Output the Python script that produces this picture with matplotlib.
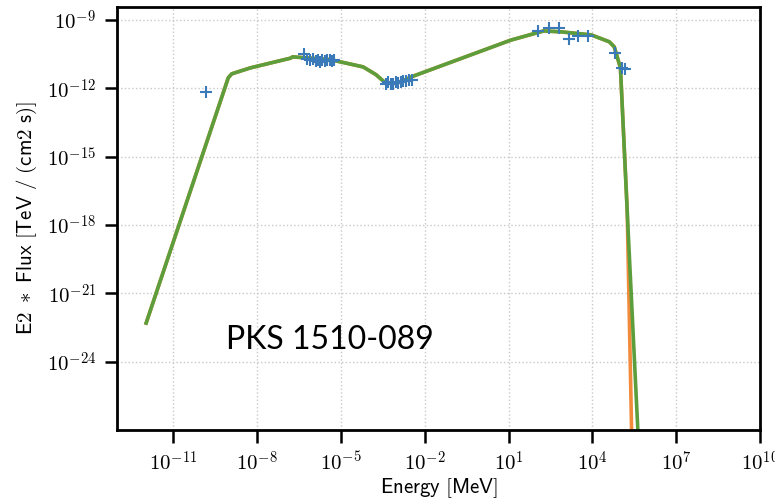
import numpy as np
import matplotlib.pyplot as plt
from matplotlib.ticker import FuncFormatter

plt.rcParams['mathtext.fontset'] = 'cm'

# model SED (total, with and without EBL absorption)
model_energy = [1.1e-12, 9.5e-10, 1.26e-9, 5.9e-9, 1.6e-7, 1.9e-7, 4.3e-6, 6.3e-5,
                1.8e-4, 4.0e-4, 1.0e-3, 4.1e-3, 4.0, 12.0, 182.0, 760.0, 9100.0,
                4.0e4, 6.0e4, 1.0e5, 1.9e5, 4.4e5]
model_flux = [5e-23, 2.9e-12, 4.3e-12, 7.9e-12, 2.1e-11, 2.4e-11, 1.8e-11, 8.7e-12,
              4.0e-12, 1.7e-12, 1.66e-12, 3.5e-12, 7.9e-11, 1.3e-10, 3.3e-10, 3.0e-10,
              2.2e-10, 1.1e-10, 6.6e-11, 7.9e-12, 4.6e-19, 3e-28]
absorbed_energy = model_energy[:20] + [1.74e5, 2.6e5]
absorbed_flux = model_flux[:20] + [5e-18, 1e-28]

# observed points
obs_energy = [1.55e-10,
              5.0e-7, 6.3e-7, 7.9e-7, 1.0e-6, 1.25e-6, 1.5e-6, 1.8e-6, 2.2e-6,
              2.7e-6, 3.3e-6, 4.0e-6, 4.8e-6, 5.8e-6,
              4.1e-4, 5.0e-4, 6.2e-4, 7.6e-4, 9.3e-4, 1.15e-3, 1.4e-3, 1.75e-3,
              2.15e-3, 2.7e-3, 3.4e-3,
              112.0, 280.0, 650.0, 1450.0, 3100.0, 7100.0, 6.6e4, 1.1e5, 1.45e5]
obs_flux = [7.2e-13,
            3.2e-11, 2.0e-11, 1.8e-11, 1.9e-11, 1.6e-11, 1.7e-11, 1.4e-11, 1.7e-11,
            1.6e-11, 1.7e-11, 1.8e-11, 1.6e-11, 1.7e-11,
            1.5e-12, 1.8e-12, 1.6e-12, 1.5e-12, 1.8e-12, 1.7e-12, 1.9e-12, 2.1e-12,
            2.0e-12, 2.3e-12, 2.4e-12,
            3.3e-10, 4.5e-10, 4.5e-10, 1.5e-10, 2.0e-10, 2.0e-10, 3.5e-11, 7.9e-12, 7.0e-12]


def pow10(v, pos):
    return r'$10^{%d}$' % int(round(np.log10(v)))


fig = plt.figure(figsize=(7.75, 4.99), dpi=100)
ax = fig.add_axes([0.151, 0.138, 0.830, 0.848])

ax.plot(absorbed_energy, absorbed_flux, color='#f28a3c', lw=2.6)
ax.plot(model_energy, model_flux, color='#5c9e3c', lw=2.6)
ax.plot(obs_energy, obs_flux, '+', color='#3a7ab8', ms=9, mew=1.5)

ax.set_xscale('log')
ax.set_yscale('log')
ax.set_xlim(1e-13, 1e10)
ax.set_ylim(1e-27, 3.7e-9)
ax.set_xticks([1e-11, 1e-8, 1e-5, 1e-2, 1e1, 1e4, 1e7, 1e10])
ax.set_yticks([1e-9, 1e-12, 1e-15, 1e-18, 1e-21, 1e-24])
ax.minorticks_off()
ax.xaxis.set_major_formatter(FuncFormatter(pow10))
ax.yaxis.set_major_formatter(FuncFormatter(pow10))
ax.tick_params(length=9, width=1.8, labelsize=15, pad=6)
for s in ax.spines.values():
    s.set_linewidth(2.0)
ax.grid(True, ls=':', color='#c8c8c8', lw=1.0)

ax.set_xlabel(r'$\mathsf{Energy\ [MeV]}$', fontsize=15, labelpad=1)
ax.set_ylabel(r'$\mathsf{E2\ *\ Flux\ [TeV\ /\ (cm2\ s)]}$', fontsize=15, labelpad=6)

fig.text(0.426, 0.318, 'PKS 1510-089', ha='center', va='center',
         fontsize=23, family='Lato')

fig.savefig('out.png')
